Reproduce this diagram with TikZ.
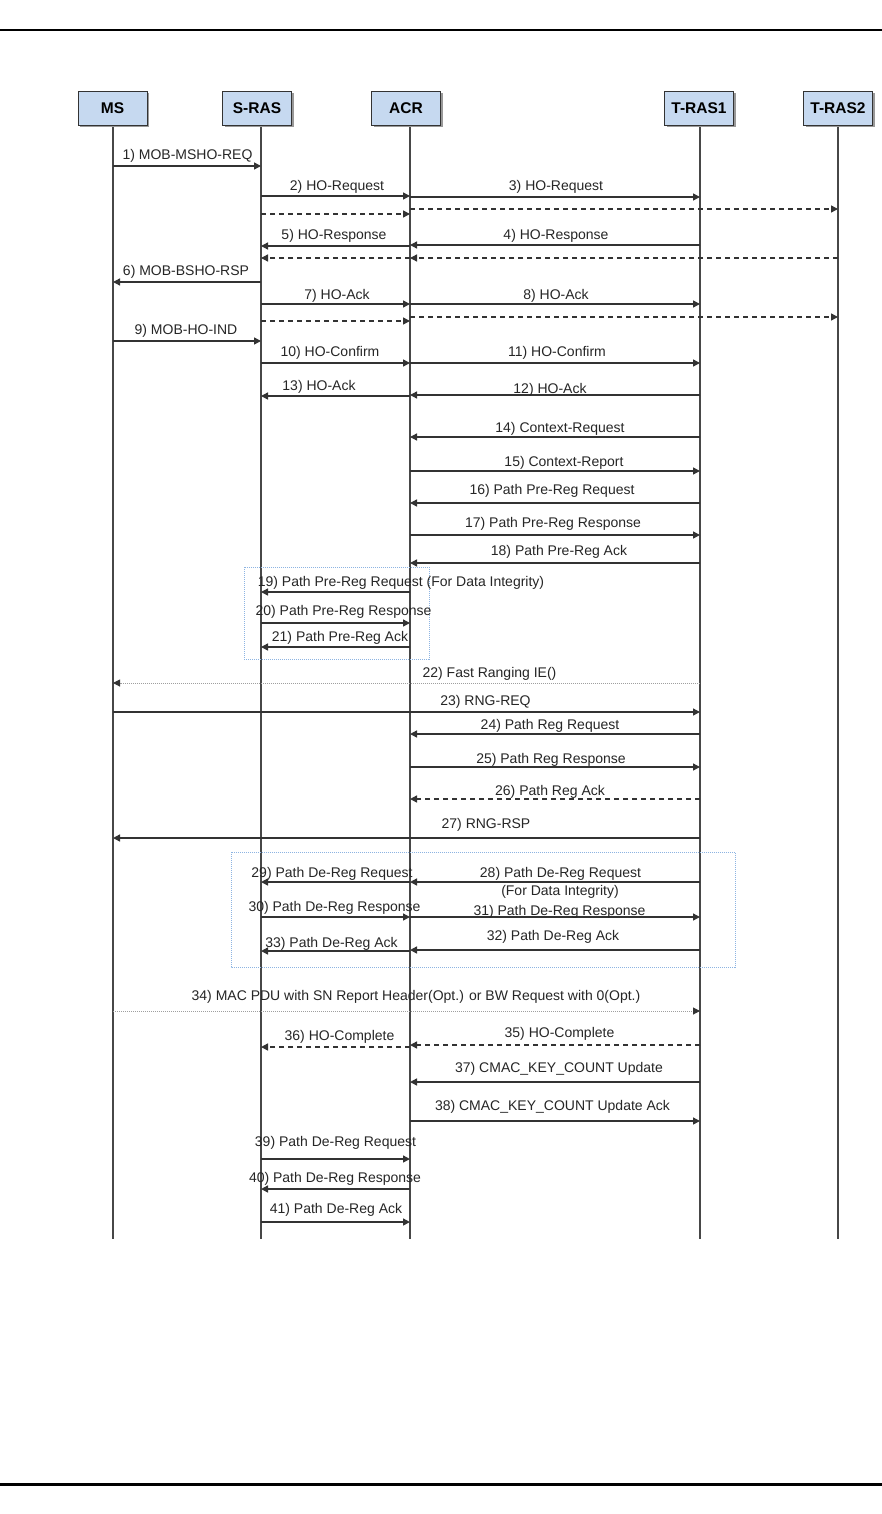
\documentclass[tikz,border=0pt]{standalone}
\usepackage{fontspec}
\setmainfont{Liberation Sans}
\usetikzlibrary{arrows.meta,shadows}
\definecolor{boxblue}{HTML}{C6D9F0}
\definecolor{ln}{HTML}{333333}
\definecolor{dotblue}{HTML}{8DB4E2}
\newcommand\xMS{113}
\newcommand\xSR{261}
\newcommand\xAC{410}
\newcommand\xTA{700}
\newcommand\xTB{838}
% #1 name, #2 from x, #3 to x, #4 y, #5 style
\newcommand\msgline[5]{%
  \coordinate (#1a) at (#2,#4);
  \coordinate (#1b) at (#3,#4);
  \draw[#5] (#1a) -- (#1b);}
\begin{document}
\begin{tikzpicture}[x=1pt,y=-1pt,
  lifebox/.style={draw=ln, line width=0.8pt, fill=boxblue, minimum width=69pt,
    minimum height=34pt, inner sep=0pt, font=\fontsize{15.5}{18}\selectfont\bfseries,
    drop shadow={shadow xshift=2pt, shadow yshift=-2pt, fill=gray!80, opacity=1}},
  lifeline/.style={draw=ln!90, line width=2pt},
  msg/.style={draw=ln, line width=1.4pt, -{Triangle[length=7pt,width=7pt]}},
  dmsg/.style={msg, dash pattern=on 5pt off 4pt},
  omsg/.style={draw=gray!75, line width=1pt, dash pattern=on 1pt off 1pt,
    -{Triangle[length=7pt,width=7pt,color=ln]}},
  lbl/.style={anchor=base, inner sep=0pt, font=\fontsize{14}{16}\selectfont, text=black!85},
  grp/.style={draw=dotblue, line width=0.8pt, dash pattern=on 1pt off 1pt},
  rule/.style={draw=black}
]
\useasboundingbox (0,0) rectangle (882,1514);
\fill[white] (0,0) rectangle (882,1514);
% page rules
\coordinate (rtl) at (0,30); \coordinate (rtr) at (882,30);
\draw[rule, line width=2.5pt] (rtl) -- (rtr);
\coordinate (rbl) at (0,1484.5); \coordinate (rbr) at (882,1484.5);
\draw[rule, line width=3pt] (rbl) -- (rbr);
% lifelines
\foreach \n/\x in {ms/\xMS, sr/\xSR, ac/\xAC, ta/\xTA, tb/\xTB}{
  \coordinate (\n top) at (\x,120);
  \coordinate (\n bot) at (\x,1239);
  \draw[lifeline] (\n top) -- (\n bot);
}
% header boxes
\node[lifebox] (MS) at (112.5,108.5) {MS};
\node[lifebox] (SRAS) at (257,108.5) {S-RAS};
\node[lifebox] (ACR) at (406,108.5) {ACR};
\node[lifebox] (TRAS1) at (699,108.5) {T-RAS1};
\node[lifebox] (TRAS2) at (838,108.5) {T-RAS2};
% group boxes
\draw[grp] (244,567) rectangle (429,659);
\draw[grp] (231,852) rectangle (735,967);
% messages
\msgline{m1}{\xMS}{\xSR}{166}{msg}
\msgline{m2}{\xSR}{\xAC}{196}{msg}
\msgline{m3}{\xAC}{\xTA}{197}{msg}
\msgline{m2d}{\xSR}{\xAC}{214}{dmsg}
\msgline{m3d}{\xAC}{\xTB}{209}{dmsg}
\msgline{m5}{\xAC}{\xSR}{246}{msg}
\msgline{m4}{\xTA}{\xAC}{245}{msg}
\msgline{m4d}{\xTB}{\xAC}{258}{dmsg}
\msgline{m5d}{\xAC}{\xSR}{258}{dmsg}
\msgline{m6}{\xSR}{\xMS}{282}{msg}
\msgline{m7}{\xSR}{\xAC}{304}{msg}
\msgline{m8}{\xAC}{\xTA}{304}{msg}
\msgline{m7d}{\xSR}{\xAC}{321}{dmsg}
\msgline{m8d}{\xAC}{\xTB}{317}{dmsg}
\msgline{m9}{\xMS}{\xSR}{341}{msg}
\msgline{m10}{\xSR}{\xAC}{363}{msg}
\msgline{m11}{\xAC}{\xTA}{363}{msg}
\msgline{m13}{\xAC}{\xSR}{396}{msg}
\msgline{m12}{\xTA}{\xAC}{395}{msg}
\msgline{m14}{\xTA}{\xAC}{437}{msg}
\msgline{m15}{\xAC}{\xTA}{471}{msg}
\msgline{m16}{\xTA}{\xAC}{503}{msg}
\msgline{m17}{\xAC}{\xTA}{535}{msg}
\msgline{m18}{\xTA}{\xAC}{563}{msg}
\msgline{m19}{\xAC}{\xSR}{592}{msg}
\msgline{m20}{\xSR}{\xAC}{623}{msg}
\msgline{m21}{\xAC}{\xSR}{647}{msg}
\msgline{m22}{\xTA}{\xMS}{683}{omsg}
\msgline{m23}{\xMS}{\xTA}{712}{msg}
\msgline{m24}{\xTA}{\xAC}{734}{msg}
\msgline{m25}{\xAC}{\xTA}{767}{msg}
\msgline{m26}{\xTA}{\xAC}{799}{dmsg}
\msgline{m27}{\xTA}{\xMS}{838}{msg}
\msgline{m28}{\xTA}{\xAC}{882}{msg}
\msgline{m29}{\xAC}{\xSR}{882}{msg}
\msgline{m30}{\xSR}{\xAC}{917}{msg}
\msgline{m31}{\xAC}{\xTA}{917}{msg}
\msgline{m32}{\xTA}{\xAC}{950}{msg}
\msgline{m33}{\xAC}{\xSR}{951}{msg}
\msgline{m34}{\xMS}{\xTA}{1011}{omsg}
\msgline{m35}{\xTA}{\xAC}{1045}{dmsg}
\msgline{m36}{\xAC}{\xSR}{1047}{dmsg}
\msgline{m37}{\xTA}{\xAC}{1082}{msg}
\msgline{m38}{\xAC}{\xTA}{1121}{msg}
\msgline{m39}{\xSR}{\xAC}{1159}{msg}
\msgline{m40}{\xAC}{\xSR}{1189}{msg}
\msgline{m41}{\xSR}{\xAC}{1222}{msg}
% labels
\node[lbl] (l1) at (187.5,160) {1) MOB-MSHO-REQ};
\node[lbl] (l2) at (337,191) {2) HO-Request};
\node[lbl] (l3) at (556,191) {3) HO-Request};
\node[lbl] (l5) at (334,240) {5) HO-Response};
\node[lbl] (l4) at (556,240) {4) HO-Response};
\node[lbl] (l6) at (186,275) {6) MOB-BSHO-RSP};
\node[lbl] (l7) at (337,299) {7) HO-Ack};
\node[lbl] (l8) at (556,299) {8) HO-Ack};
\node[lbl] (l9) at (186,334) {9) MOB-HO-IND};
\node[lbl] (l10) at (330,356) {10) HO-Confirm};
\node[lbl] (l11) at (557,356) {11) HO-Confirm};
\node[lbl] (l13) at (319,390) {13) HO-Ack};
\node[lbl] (l12) at (550,393) {12) HO-Ack};
\node[lbl] (l14) at (560,432) {14) Context-Request};
\node[lbl] (l15) at (564,466) {15) Context-Report};
\node[lbl] (l16) at (552,494) {16) Path Pre-Reg Request};
\node[lbl] (l17) at (553,527) {17) Path Pre-Reg Response};
\node[lbl] (l18) at (559,555) {18) Path Pre-Reg Ack};
\node[lbl] (l19) at (401,586) {19) Path Pre-Reg Request (For Data Integrity)};
\node[lbl] (l20) at (343.5,615) {20) Path Pre-Reg Response};
\node[lbl] (l21) at (340,641) {21) Path Pre-Reg Ack};
\node[lbl] (l22) at (489.5,677) {22) Fast Ranging IE()};
\node[lbl] (l23) at (485.5,705) {23) RNG-REQ};
\node[lbl] (l24) at (550,729) {24) Path Reg Request};
\node[lbl] (l25) at (551,763) {25) Path Reg Response};
\node[lbl] (l26) at (550,795) {26) Path Reg Ack};
\node[lbl] (l27) at (486,828) {27) RNG-RSP};
\node[lbl] (l28) at (560.5,877) {28) Path De-Reg Request};
\node[lbl] (l28b) at (560,895) {(For Data Integrity)};
\node[lbl] (l29) at (332,877) {29) Path De-Reg Request};
\node[lbl] (l30) at (334.5,911) {30) Path De-Reg Response};
\node[lbl] (l31) at (559.5,915) {31) Path De-Reg Response};
\node[lbl] (l32) at (553,940) {32) Path De-Reg Ack};
\node[lbl] (l33) at (331.5,947) {33) Path De-Reg Ack};
\node[lbl] (l34) at (416,1000) {34) MAC PDU with SN Report Header(Opt.) or BW Request with 0(Opt.)};
\node[lbl] (l36) at (339.5,1040) {36) HO-Complete};
\node[lbl] (l35) at (559.5,1037) {35) HO-Complete};
\node[lbl] (l37) at (559,1072) {37) CMAC\_KEY\_COUNT Update};
\node[lbl] (l38) at (552.5,1110) {38) CMAC\_KEY\_COUNT Update Ack};
\node[lbl] (l39) at (335.5,1146) {39) Path De-Reg Request};
\node[lbl] (l40) at (335,1182) {40) Path De-Reg Response};
\node[lbl] (l41) at (336,1213) {41) Path De-Reg Ack};
\end{tikzpicture}
\end{document}
